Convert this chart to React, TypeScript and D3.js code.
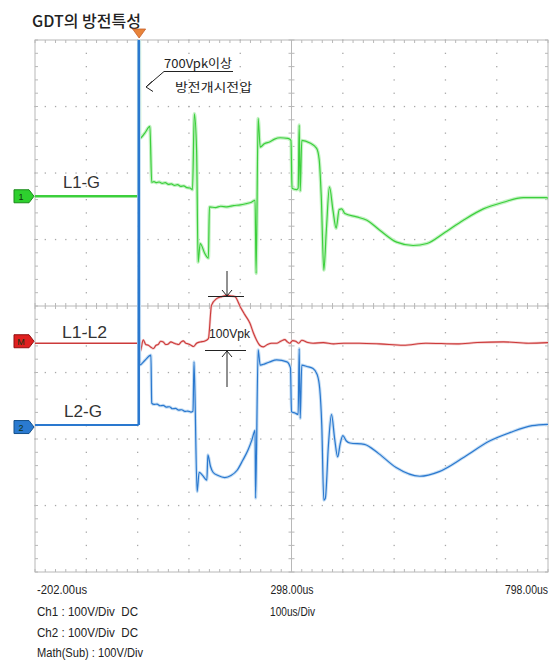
import React from "react";
import * as d3 from "d3";

type Pt = [number, number];

const TIME_MIN = -202;
const TIME_MAX = 798;
const VOLT_MIN = -400;
const VOLT_MAX = 400;
const TIME_STEP = 100;
const VOLT_STEP = 100;

const TITLE = "GDT의 방전특성";
const TIME_LABELS: number[] = [-202, 298, 798];
const TIME_LABEL_TEXT = ["-202.00us", "298.00us", "798.00us"];
const SETTINGS = ["Ch1 : 100V/Div  DC", "Ch2 : 100V/Div  DC", "Math(Sub) : 100V/Div"];
const TIMEBASE = "100us/Div";
const CH_NAMES = ["L1-G", "L1-L2", "L2-G"];
const CH_MARKS = ["1", "M", "2"];
const NOTE_1 = "700Vpk이상";
const NOTE_2 = "방전개시전압";
const NOTE_PK = "100Vpk";

// channel ground offsets (volts on screen)
const OFF_CH1 = 165;
const OFF_MATH = -56;
const OFF_CH2 = -179;

// L1-G (Ch1): [time us, volts]
const L1G: Pt[] = [
  [-202, 0], [0, 0], [0.6, 720], [2, 87], [12, 95], [22, 105], [25.5, 21], [30, 22], [35, 20.5],
  [40, 21.5], [46, 19.5], [52, 20.5], [58, 18], [64, 18.5], [70, 16.5], [76, 17.5], [82, 15],
  [88, 15.5], [94, 13], [100, 12.5], [105, 10], [108.6, 124], [113, 69], [116, -99], [120, -71],
  [129, -86], [136, -93], [138, -16], [150, -17], [160, -15], [172, -16], [185, -14], [198, -13],
  [210, -11], [220, -9], [227, -6], [229, -116], [233, 117], [237, 74], [245, 79], [256, 82],
  [265, 86], [276, 88], [291, 87], [297, 84], [299, 12], [308, 10], [311, 12], [313, 107],
  [315, 8], [318, 84], [334, 80], [347, 72], [352, 55], [356, 0], [361, -111], [366, -50],
  [372, 14], [379, -22], [385, -48], [391, -20], [396, -19], [402, -26], [425, -31], [445, -36],
  [470, -51], [503, -69], [535, -74], [562, -71], [594, -56], [633, -36], [672, -19], [711, -9],
  [750, -2], [795, -2], [798, -3],
];

// L2-G (Ch2)
const L2G: Pt[] = [
  [-202, 0], [0, 0], [0.6, 720], [2, 90], [12, 97], [24, 105], [25.5, 33], [30, 31], [36, 31.5],
  [42, 29], [48, 29.5], [54, 27], [60, 27.5], [66, 24.5], [72, 25], [78, 22.5], [84, 23], [90, 20.5],
  [96, 21], [102, 19.5], [106, 21], [108, 95], [114, -100], [118, -71], [125, -76], [133, -83],
  [135, -45], [140, -62], [145, -71], [155, -76], [168, -79], [180, -76], [192, -68], [203, -53],
  [213, -38], [221, -22], [227, -8], [228, -110], [233, 113], [237, 90], [246, 92], [256, 95],
  [269, 98], [289, 95], [296, 86], [298, 20], [305, 18], [311, 16], [313, 115], [315, 10],
  [318, 90], [328, 88], [340, 85], [348, 76], [353, 55], [357, 0], [361, -113], [364, -110],
  [370, -30], [376, 16], [382, -20], [388, -48], [393, -28], [398, -16], [405, -24], [412, -27],
  [440, -29], [468, -43], [502, -64], [548, -77], [586, -70], [635, -48], [684, -24], [725, -11],
  [767, -1], [798, 1],
];

// L1-L2 (Math)
const L1L2: Pt[] = [
  [-202, 0], [0, 0], [3, -13], [9, 5], [14, -2], [19, -3], [24, -6], [29, -8], [34, -3], [38, -2],
  [43, 3], [48, 2], [53, -2], [58, -1], [63, 2], [68, 0.5], [73, -1], [78, -2], [83, 2], [87, 3.5],
  [92, 0], [97, -1], [102, -3], [107, -5], [113, 0], [120, 2], [128, 3], [136, 7], [142, 57],
  [152, 67], [162, 70], [172, 72], [182, 71], [188, 70], [198, 55], [207, 43], [217, 30], [224, 15],
  [230, 4.5], [236, -3], [243, -5.5], [251, -2], [259, 0], [269, 0], [277, 3], [285, 5.5],
  [290, 2], [295, 0], [300, 4], [306, 3], [312, 0], [318, 4.5], [330, 1], [340, 0], [360, 1],
  [380, -1], [400, 0], [430, 0], [470, -1], [516, -3], [560, 0], [620, -1], [660, 1], [711, 2],
  [760, 0], [798, 1],
];

const GREEN = "#3ccf3c";
const BLUE = "#2a78cf";
const RED = "#cc3a3a";
const GRID = "#b8b8b8";

export default function App() {
  const W = 557;
  const H = 664;
  const x = d3.scaleLinear().domain([TIME_MIN, TIME_MAX]).range([35, 548]);
  const y = d3.scaleLinear().domain([VOLT_MIN, VOLT_MAX]).range([572, 40]);
  const mk = (off: number, smooth = true) =>
    d3
      .line<Pt>()
      .x((d) => x(d[0]))
      .y((d) => y(d[1] + off))
      .curve(smooth ? d3.curveMonotoneX : d3.curveLinear);

  const majT = d3.range(TIME_MIN, TIME_MAX + 1, TIME_STEP);
  const majV = d3.range(VOLT_MIN, VOLT_MAX + 1, VOLT_STEP);
  const minT = d3.range(TIME_MIN, TIME_MAX + 0.1, TIME_STEP / 5);
  const minV = d3.range(VOLT_MIN, VOLT_MAX + 0.1, VOLT_STEP / 5);
  const cT = (TIME_MIN + TIME_MAX) / 2;
  const cV = (VOLT_MIN + VOLT_MAX) / 2;

  const pre = (d: Pt[]) => d.filter((p) => p[0] <= 0);
  const post = (d: Pt[]) => d.filter((p) => p[0] >= 0);

  const dots: JSX.Element[] = [];
  majT.slice(1, -1).forEach((t) => {
    if (t === cT) return;
    minV.forEach((v, k) =>
      dots.push(<rect key={`dv${t}_${k}`} x={x(t) - 0.6} y={y(v) - 0.6} width={1.3} height={1.3} fill="#a8a8a8" />)
    );
  });
  majV.slice(1, -1).forEach((v) => {
    if (v === cV) return;
    minT.forEach((t, k) =>
      dots.push(<rect key={`dh${v}_${k}`} x={x(t) - 0.6} y={y(v) - 0.6} width={1.3} height={1.3} fill="#a8a8a8" />)
    );
  });

  const ticks: JSX.Element[] = [];
  minT.forEach((t, k) => {
    const len = 3;
    ticks.push(<line key={`tt${k}`} x1={x(t)} x2={x(t)} y1={y(VOLT_MAX)} y2={y(VOLT_MAX) + len} stroke={GRID} />);
    ticks.push(<line key={`tb${k}`} x1={x(t)} x2={x(t)} y1={y(VOLT_MIN)} y2={y(VOLT_MIN) - len} stroke={GRID} />);
    ticks.push(<line key={`tc${k}`} x1={x(t)} x2={x(t)} y1={y(cV) - len} y2={y(cV) + len} stroke={GRID} />);
  });
  minV.forEach((v, k) => {
    const len = 3;
    ticks.push(<line key={`vl${k}`} x1={x(TIME_MIN)} x2={x(TIME_MIN) + len} y1={y(v)} y2={y(v)} stroke={GRID} />);
    ticks.push(<line key={`vr${k}`} x1={x(TIME_MAX)} x2={x(TIME_MAX) - len} y1={y(v)} y2={y(v)} stroke={GRID} />);
    ticks.push(<line key={`vc${k}`} x1={x(cT) - len} x2={x(cT) + len} y1={y(v)} y2={y(v)} stroke={GRID} />);
  });

  const marker = (yy: number, fill: string, stroke: string, label: string, key: string) => (
    <g key={key}>
      <path
        d={`M14,${yy - 6.5} L29,${yy - 6.5} L34,${yy} L29,${yy + 6.5} L14,${yy + 6.5} Z`}
        fill={fill}
        stroke={stroke}
        strokeWidth={1}
      />
      <text x={21} y={yy + 3.5} fontSize={9} textAnchor="middle" fill="#113311" fontFamily="Liberation Sans, Arial">
        {label}
      </text>
    </g>
  );

  const t0 = x(0);
  const lblFont = "Liberation Sans Narrow, Liberation Sans, Arial, sans-serif";
  const pre_ws: React.CSSProperties = { whiteSpace: "pre" };

  const g1 = mk(OFF_CH1)(post(L1G)) || "";
  const g2 = mk(OFF_CH2)(post(L2G)) || "";
  const gm = mk(OFF_MATH)(post(L1L2)) || "";

  return (
    <svg width={W} height={H} style={{ position: "absolute", left: 0, top: 0, background: "#fff" }}>
      <defs>
        <clipPath id="plot">
          <rect x={x(TIME_MIN)} y={y(VOLT_MAX)} width={x(TIME_MAX) - x(TIME_MIN)} height={y(VOLT_MIN) - y(VOLT_MAX)} />
        </clipPath>
      </defs>
      <rect x={0} y={0} width={W} height={H} fill="#fff" />

      <text x={32} y={27} fontSize={16} fontWeight={500} fill="#222" fontFamily="Noto Sans CJK KR, sans-serif">
        {TITLE}
      </text>

      {/* grid */}
      <g>
        {dots}
        {ticks}
        <line x1={x(cT)} x2={x(cT)} y1={y(VOLT_MAX)} y2={y(VOLT_MIN)} stroke={GRID} />
        <line x1={x(TIME_MIN)} x2={x(TIME_MAX)} y1={y(cV)} y2={y(cV)} stroke={GRID} />
        <rect
          x={x(TIME_MIN)}
          y={y(VOLT_MAX)}
          width={x(TIME_MAX) - x(TIME_MIN)}
          height={y(VOLT_MIN) - y(VOLT_MAX)}
          fill="none"
          stroke={GRID}
        />
      </g>

      {/* trigger marker */}
      <path d={`M${t0 - 6},29 L${t0 + 7},29 L${t0 + 0.5},38 Z`} fill="#e8843a" stroke="#c8602a" strokeWidth={0.8} />

      {/* traces */}
      <g clipPath="url(#plot)">
        <path d={g1} fill="none" stroke="#c4f2c4" strokeWidth={3.5} strokeLinejoin="round" />
        <path d={g1} fill="none" stroke={GREEN} strokeWidth={1.2} strokeLinejoin="round" />
        <path d={mk(OFF_CH1, false)(pre(L1G)) || ""} fill="none" stroke={GREEN} strokeWidth={2.6} />

        <path d={gm} fill="none" stroke="#f2c8c8" strokeWidth={2.5} strokeLinejoin="round" />
        <path d={gm} fill="none" stroke={RED} strokeWidth={1.1} strokeLinejoin="round" />
        <path d={mk(OFF_MATH, false)(pre(L1L2)) || ""} fill="none" stroke={RED} strokeWidth={1.4} />

        <path d={g2} fill="none" stroke="#c6def4" strokeWidth={3.2} strokeLinejoin="round" />
        <path d={g2} fill="none" stroke={BLUE} strokeWidth={1.2} strokeLinejoin="round" />
        <path d={mk(OFF_CH2, false)(pre(L2G)) || ""} fill="none" stroke={BLUE} strokeWidth={2} />
        <line x1={x(0.3)} x2={x(0.3)} y1={y(VOLT_MAX)} y2={y(OFF_CH2)} stroke={BLUE} strokeWidth={2.4} />
      </g>

      {/* channel markers */}
      {marker(y(OFF_CH1), "#2ed02e", "#1a8a1a", CH_MARKS[0], "m1")}
      {marker(y(OFF_MATH) - 2, "#e02020", "#901010", CH_MARKS[1], "mm")}
      {marker(y(OFF_CH2) + 2, "#2a7ad0", "#14508a", CH_MARKS[2], "m2")}

      {/* channel names */}
      <g fontFamily={lblFont} fontSize={16} fill="#333">
        <text x={63} y={188} textLength={37} lengthAdjust="spacingAndGlyphs">{CH_NAMES[0]}</text>
        <text x={62} y={338} textLength={45} lengthAdjust="spacingAndGlyphs">{CH_NAMES[1]}</text>
        <text x={64} y={417} textLength={38} lengthAdjust="spacingAndGlyphs">{CH_NAMES[2]}</text>
      </g>

      {/* discharge annotation */}
      <g fontFamily="Noto Sans CJK KR, sans-serif" fontSize={12} fill="#222">
        <text x={164} y={68} textLength={68} lengthAdjust="spacingAndGlyphs">{NOTE_1}</text>
        <text x={175} y={92} textLength={77} lengthAdjust="spacingAndGlyphs">{NOTE_2}</text>
      </g>
      <g stroke="#222" strokeWidth={1} fill="none">
        <line x1={164} x2={233} y1={71.5} y2={71.5} />
        <line x1={164} x2={146} y1={71.5} y2={87} />
        <path d="M152,81.5 L146,87 L153,91.5" />
      </g>

      {/* peak annotation */}
      <text x={209} y={338} fontSize={12} fill="#222" fontFamily={lblFont} textLength={41} lengthAdjust="spacingAndGlyphs">
        {NOTE_PK}
      </text>
      <g stroke="#222" strokeWidth={1} fill="none">
        <line x1={227} x2={227} y1={271} y2={296} />
        <line x1={208} x2={244} y1={296.5} y2={296.5} />
        <path d="M222,290 L227,296 L232,290" />
        <line x1={205} x2={246} y1={350.5} y2={350.5} />
        <line x1={227} x2={227} y1={351} y2={387} />
        <path d="M222,357 L227,351 L232,357" />
      </g>

      {/* bottom labels */}
      <g fontFamily={lblFont} fontSize={12} fill="#222">
        <text x={x(TIME_LABELS[0]) + 2} y={594} textLength={50} lengthAdjust="spacingAndGlyphs">{TIME_LABEL_TEXT[0]}</text>
        <text x={x(TIME_LABELS[1]) - 21} y={594} textLength={43} lengthAdjust="spacingAndGlyphs">{TIME_LABEL_TEXT[1]}</text>
        <text x={x(TIME_LABELS[2]) - 43} y={594} textLength={43} lengthAdjust="spacingAndGlyphs">{TIME_LABEL_TEXT[2]}</text>
        <text x={37} y={616} style={pre_ws} xmlSpace="preserve" textLength={101} lengthAdjust="spacingAndGlyphs">{SETTINGS[0]}</text>
        <text x={37} y={637} style={pre_ws} xmlSpace="preserve" textLength={101} lengthAdjust="spacingAndGlyphs">{SETTINGS[1]}</text>
        <text x={37} y={657} style={pre_ws} textLength={106} lengthAdjust="spacingAndGlyphs">{SETTINGS[2]}</text>
        <text x={270} y={616} textLength={45} lengthAdjust="spacingAndGlyphs">{TIMEBASE}</text>
      </g>
    </svg>
  );
}
